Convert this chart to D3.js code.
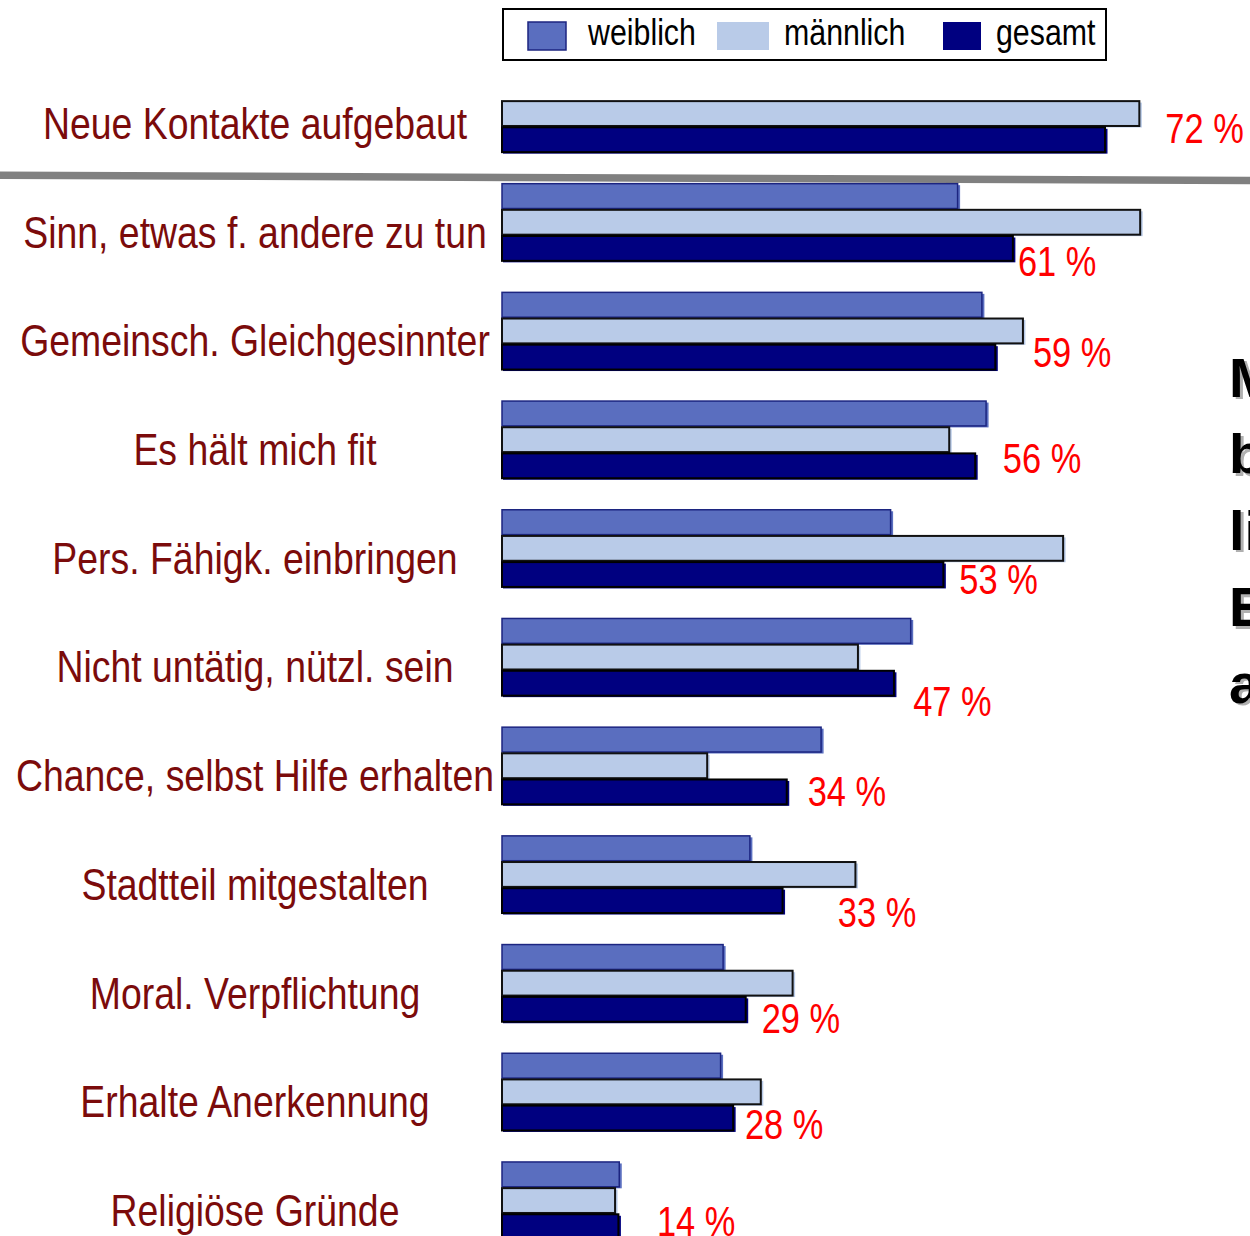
<!DOCTYPE html>
<html>
<head>
<meta charset="utf-8">
<script src="https://cdn.jsdelivr.net/npm/d3@7"></script>
<style>
  body { margin: 0; background: #fff; }
  svg { display: block; }
  text { font-family: "Liberation Sans", Arial, sans-serif; }
</style>
</head>
<body>
<div id="chart"></div>
<script>
// categories top to bottom
const categories = [
  "Neue Kontakte aufgebaut",
  "Sinn, etwas f. andere zu tun",
  "Gemeinsch. Gleichgesinnter",
  "Es hält mich fit",
  "Pers. Fähigk. einbringen",
  "Nicht untätig, nützl. sein",
  "Chance, selbst Hilfe erhalten",
  "Stadtteil mitgestalten",
  "Moral. Verpflichtung",
  "Erhalte Anerkennung",
  "Religiöse Gründe"
];

const seriesNames = ["weiblich", "männlich", "gesamt"];

// values in percent
const weiblich  = [null, 54.4, 57.3, 57.8, 46.4, 48.8, 38.1, 29.6, 26.4, 26.1, 14.0];
const maennlich = [76.1, 76.2, 62.2, 53.4, 67.0, 42.5, 24.5, 42.2, 34.7, 30.9, 13.5];
const gesamt    = [72.0, 61.0, 58.9, 56.5, 52.7, 46.8, 34.0, 33.5, 29.1, 27.6, 13.9];

const gesamtLabels = ["72 %", "61 %", "59 %", "56 %", "53 %", "47 %", "34 %", "33 %", "29 %", "28 %", "14 %"];

// cropped side note on the right edge of the slide
const sideNote = ["M", "b", "li", "E", "a"];

// placement of the red percent labels (value units, fraction of bar group height)
const pctLabelX = [79.2, 61.6, 63.4, 59.8, 54.6, 49.1, 36.5, 40.1, 31.0, 29.0, 18.5];
const pctLabelY = [0.88, 1.20, 0.97, 0.93, 1.09, 1.26, 1.02, 1.18, 1.15, 1.11, 0.96];

const svg_width = 1250, svg_height = 1236;

// narrow font look: regular face squeezed horizontally
const narrow = 0.82;

const colors = {
  "weiblich": {fill: "#5a6ebf", stroke: "#1c2580", sw: 1.5},
  "männlich": {fill: "#b9cbe8", stroke: "#111", sw: 2},
  "gesamt":   {fill: "#000080", stroke: "#000", sw: 2}
};

const rows = categories.map((c, i) => ({
  name: c,
  values: [
    {key: "weiblich", v: weiblich[i]},
    {key: "männlich", v: maennlich[i]},
    {key: "gesamt", v: gesamt[i]}
  ].filter(d => d.v !== null),
  label: gesamtLabels[i],
  lx: pctLabelX[i],
  ly: pctLabelY[i]
}));

const svg = d3.select("#chart")
  .append("svg")
  .attr("width", svg_width)
  .attr("height", svg_height);

// scales
const x = d3.scaleLinear().domain([0, 100]).range([502, 502 + 837.5]);

const y0 = d3.scaleBand()
  .domain(categories)
  .range([59.2, 59.2 + 11 * 108.7])
  .paddingInner(0.29)
  .paddingOuter(0.145);

const y1 = d3.scaleBand()
  .domain(seriesNames)
  .range([0, y0.bandwidth()])
  .paddingInner(0.05);

// separator line below first row
svg.append("line")
  .attr("x1", 0).attr("y1", 175.3)
  .attr("x2", svg_width).attr("y2", 180.5)
  .attr("stroke", "#808080")
  .attr("stroke-width", 7.5);

// bar groups
const group = svg.append("g")
  .selectAll("g")
  .data(rows)
  .join("g")
    .attr("transform", d => `translate(0,${y0(d.name)})`);

// slight offset shadow in the bar colour
group.selectAll("rect.shadow")
  .data(d => d.values)
  .join("rect")
    .attr("class", "shadow")
    .attr("x", x(0) + 1)
    .attr("y", d => y1(d.key) + 1.5)
    .attr("width", d => x(d.v) - x(0) + 1.5)
    .attr("height", y1.bandwidth())
    .attr("fill", d => colors[d.key].fill);

group.selectAll("rect.bar")
  .data(d => d.values)
  .join("rect")
    .attr("class", "bar")
    .attr("x", x(0))
    .attr("y", d => y1(d.key))
    .attr("width", d => x(d.v) - x(0))
    .attr("height", y1.bandwidth())
    .attr("fill", d => colors[d.key].fill)
    .attr("stroke", d => colors[d.key].stroke)
    .attr("stroke-width", d => colors[d.key].sw);

// category labels
group.append("text")
  .attr("transform", `translate(255,64) scale(0.85,1)`)
  .attr("text-anchor", "middle")
  .attr("fill", "#7b0b0b")
  .style("font-size", "44px")
  .text(d => d.name);

// red percent labels
group.append("text")
  .attr("transform", d => `translate(${x(d.lx)},${d.ly * y0.bandwidth()}) scale(${narrow},1)`)
  .attr("fill", "#ff0000")
  .style("font-size", "42px")
  .text(d => d.label);

// legend
const legend = svg.append("g");
legend.append("rect")
  .attr("x", 503).attr("y", 9)
  .attr("width", 603).attr("height", 51)
  .attr("fill", "#fff")
  .attr("stroke", "#000")
  .attr("stroke-width", 2);

const legendX = {"weiblich": [528, 38, 588], "männlich": [717, 52, 784], "gesamt": [943, 38, 996]};

const item = legend.selectAll("g")
  .data(seriesNames)
  .join("g");

item.append("rect")
  .attr("x", d => legendX[d][0])
  .attr("y", 22)
  .attr("width", d => legendX[d][1])
  .attr("height", 28)
  .attr("fill", d => colors[d].fill)
  .attr("stroke", d => d === "weiblich" ? colors[d].stroke : "none")
  .attr("stroke-width", 1.5);

item.append("text")
  .attr("transform", d => `translate(${legendX[d][2]},45) scale(${narrow},1)`)
  .attr("fill", "#000")
  .style("font-size", "37px")
  .text(d => d);

// cropped bold note at right edge
const note = svg.append("g")
  .style("font-weight", "bold")
  .style("font-size", "56px");

note.selectAll("text.sh")
  .data(sideNote)
  .join("text")
    .attr("class", "sh")
    .attr("x", 1232)
    .attr("y", (d, i) => 399 + i * 76.5)
    .attr("fill", "#b0b0b0")
    .text(d => d);

note.selectAll("text.fg")
  .data(sideNote)
  .join("text")
    .attr("class", "fg")
    .attr("x", 1229)
    .attr("y", (d, i) => 396.5 + i * 76.5)
    .attr("fill", "#000")
    .text(d => d);
</script>
</body>
</html>
